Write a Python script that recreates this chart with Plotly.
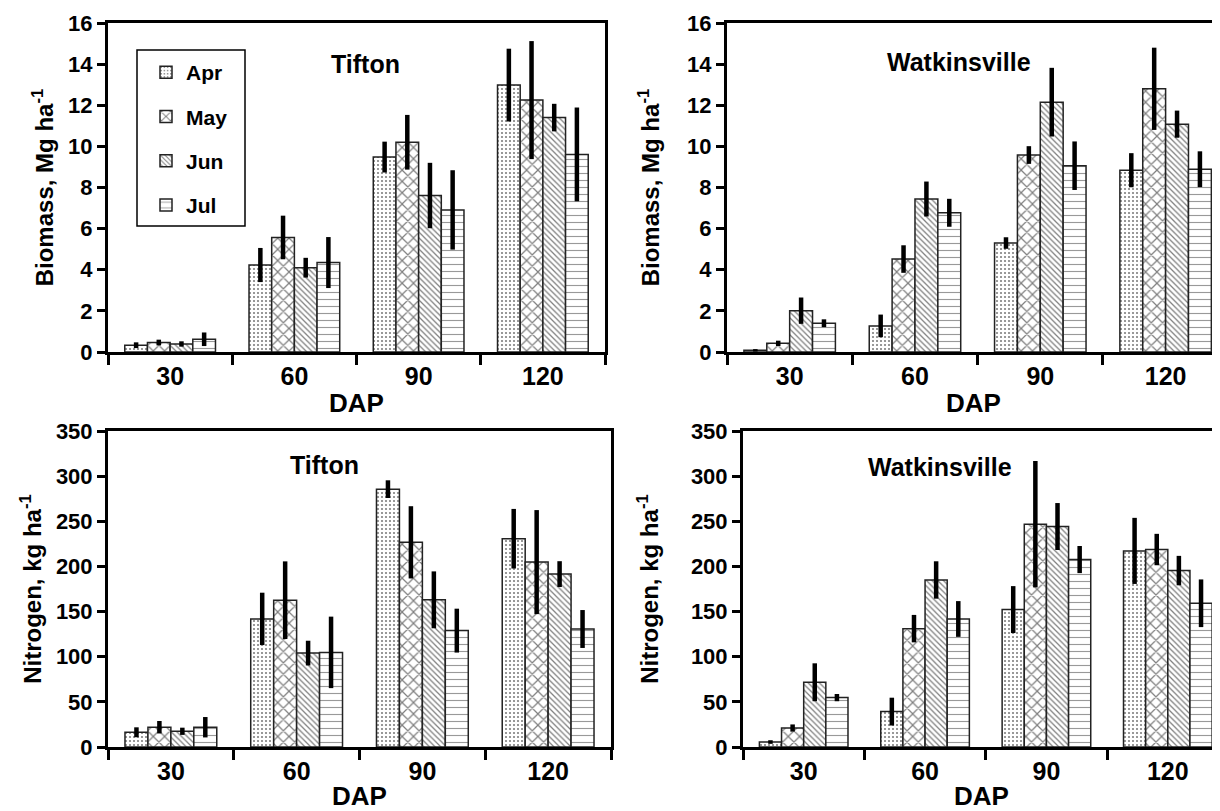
import plotly.graph_objects as go

# ---------------- data ----------------
dap = ["30", "60", "90", "120"]
months = ["Apr", "May", "Jun", "Jul"]

# Tifton biomass (Mg/ha) and error half-widths
tif_bio_apr = [0.33, 4.23, 9.48, 12.98]
tif_bio_may = [0.46, 5.57, 10.20, 12.25]
tif_bio_jun = [0.39, 4.10, 7.61, 11.40]
tif_bio_jul = [0.62, 4.35, 6.91, 9.61]
tif_bio_apr_err = [0.14, 0.83, 0.75, 1.77]
tif_bio_may_err = [0.14, 1.06, 1.33, 2.87]
tif_bio_jun_err = [0.13, 0.48, 1.59, 0.67]
tif_bio_jul_err = [0.33, 1.24, 1.93, 2.28]

# Watkinsville biomass (Mg/ha)
wat_bio_apr = [0.08, 1.27, 5.30, 8.84]
wat_bio_may = [0.42, 4.52, 9.58, 12.80]
wat_bio_jun = [2.01, 7.44, 12.15, 11.08]
wat_bio_jul = [1.40, 6.77, 9.06, 8.89]
wat_bio_apr_err = [0.06, 0.55, 0.28, 0.83]
wat_bio_may_err = [0.13, 0.67, 0.43, 2.00]
wat_bio_jun_err = [0.64, 0.85, 1.67, 0.66]
wat_bio_jul_err = [0.19, 0.68, 1.18, 0.87]

# Tifton nitrogen (kg/ha)
tif_n_apr = [16.3, 141.9, 285.6, 230.7]
tif_n_may = [21.9, 162.6, 226.7, 204.8]
tif_n_jun = [17.4, 104.0, 163.0, 191.5]
tif_n_jul = [21.9, 104.8, 128.9, 130.7]
tif_n_apr_err = [5.5, 29.0, 9.8, 33.0]
tif_n_may_err = [6.9, 43.0, 40.0, 57.6]
tif_n_jun_err = [4.0, 13.7, 31.5, 14.3]
tif_n_jul_err = [11.3, 39.6, 24.3, 21.0]

# Watkinsville nitrogen (kg/ha)
wat_n_apr = [5.5, 39.2, 152.2, 217.2]
wat_n_may = [21.0, 131.1, 246.8, 218.7]
wat_n_jun = [71.7, 185.0, 244.2, 195.4]
wat_n_jul = [54.7, 141.8, 207.6, 159.2]
wat_n_apr_err = [2.0, 15.4, 26.0, 36.6]
wat_n_may_err = [4.0, 15.2, 70.0, 17.4]
wat_n_jun_err = [21.0, 20.7, 26.0, 16.3]
wat_n_jul_err = [4.0, 19.8, 15.0, 26.4]

biomass_ticks = [0, 2, 4, 6, 8, 10, 12, 14, 16]
nitrogen_ticks = [0, 50, 100, 150, 200, 250, 300, 350]

# ---------------- styling ----------------
FONT = "Liberation Sans, Arial, sans-serif"
patterns = {
    "Apr": dict(shape=".", size=4, solidity=0.22, fgcolor="#000", bgcolor="#fff"),
    "May": dict(shape="x", size=8, solidity=0.28, fgcolor="#000", bgcolor="#fff"),
    "Jun": dict(shape="\\", size=4, solidity=0.32, fgcolor="#000", bgcolor="#fff"),
    "Jul": dict(shape="-", size=7, solidity=0.16, fgcolor="#333", bgcolor="#fff"),
}

panels = [
    ("x", "y", [tif_bio_apr, tif_bio_may, tif_bio_jun, tif_bio_jul],
     [tif_bio_apr_err, tif_bio_may_err, tif_bio_jun_err, tif_bio_jul_err]),
    ("x2", "y2", [wat_bio_apr, wat_bio_may, wat_bio_jun, wat_bio_jul],
     [wat_bio_apr_err, wat_bio_may_err, wat_bio_jun_err, wat_bio_jul_err]),
    ("x3", "y3", [tif_n_apr, tif_n_may, tif_n_jun, tif_n_jul],
     [tif_n_apr_err, tif_n_may_err, tif_n_jun_err, tif_n_jul_err]),
    ("x4", "y4", [wat_n_apr, wat_n_may, wat_n_jun, wat_n_jul],
     [wat_n_apr_err, wat_n_may_err, wat_n_jun_err, wat_n_jul_err]),
]

fig = go.Figure()
for pi, (xa, ya, vals, errs) in enumerate(panels):
    for mi, m in enumerate(months):
        fig.add_trace(go.Bar(
            x=dap, y=vals[mi], name=m, legendgroup=m,
            showlegend=(pi == 0),
            xaxis=xa, yaxis=ya,
            marker=dict(color="#fff", pattern=patterns[m],
                        line=dict(color="#222", width=1.5)),
            error_y=dict(type="data", array=errs[mi], symmetric=True,
                         color="#000", thickness=4.5, width=0),
        ))

# figure size (page body adds an 8px margin)
W, H = 1212, 803
def px_x(a, b):
    return [a / W, b / W]
def px_y(top, bottom):
    return [1 - bottom / H, 1 - top / H]

def xaxis(domain, rng, anchor):
    return dict(domain=domain, anchor=anchor, type="category", range=rng,
                automargin=False,
                tickson="boundaries", ticks="outside", ticklen=10, tickwidth=3,
                tickcolor="#000", showline=True, linecolor="#000", linewidth=3,
                mirror=True, showgrid=False, zeroline=False, ticklabelstandoff=0,
                tickfont=dict(family=FONT, size=25, color="#000", weight="bold"),
                title=dict(text="DAP", standoff=5,
                           font=dict(family=FONT, size=26, color="#000", weight="bold")))

def yaxis(domain, rng, tickvals, title, anchor, mirror, standoff):
    return dict(domain=domain, anchor=anchor, range=rng, tickvals=tickvals,
                automargin=False,
                ticks="outside", ticklen=8, tickwidth=2.5, tickcolor="#000",
                showline=True, linecolor="#000", linewidth=3, mirror=mirror,
                showgrid=False, zeroline=False,
                tickfont=dict(family=FONT, size=22, color="#000", weight="bold"),
                title=dict(text=title, standoff=standoff,
                           font=dict(family=FONT, size=24, color="#000", weight="bold")))

bio_title = "Biomass, Mg ha<sup>-1</sup>"
n_title = "Nitrogen, kg ha<sup>-1</sup>"

fig.update_layout(
    width=W, height=H,
    margin=dict(l=0, r=0, t=0, b=0, autoexpand=False),
    paper_bgcolor="#fff", plot_bgcolor="#fff",
    font=dict(family=FONT, color="#000", weight="bold"),
    barmode="group", bargap=0.27, bargroupgap=0,
    showlegend=True,
    legend=dict(x=138 / W, y=1 - 44 / H, xanchor="left", yanchor="top",
                bgcolor="rgba(0,0,0,0)", borderwidth=0,
                font=dict(family=FONT, size=21, color="#000", weight="bold"),
                tracegroupgap=14, traceorder="grouped"),
    xaxis=xaxis(px_x(100, 597), [-0.5, 3.5], "y"),
    yaxis=yaxis(px_y(15, 344), [0, 16], biomass_ticks, bio_title, "x", True, 8),
    xaxis2=xaxis(px_x(719, 1212), [-0.5, 3.434], "y2"),
    yaxis2=yaxis(px_y(15, 344), [0, 16], biomass_ticks, bio_title, "x2", False, 21),
    xaxis3=xaxis(px_x(100, 603), [-0.5, 3.5], "y3"),
    yaxis3=yaxis(px_y(423, 739), [0, 350], nitrogen_ticks, n_title, "x3", True, 8),
    xaxis4=xaxis(px_x(735, 1212), [-0.5, 3.43], "y4"),
    yaxis4=yaxis(px_y(423, 739), [0, 350], nitrogen_ticks, n_title, "x4", False, 26),
)

# legend frame
fig.add_shape(type="rect", xref="paper", yref="paper",
              x0=129 / W, x1=237 / W, y0=1 - 218 / H, y1=1 - 42 / H,
              line=dict(color="#000", width=1.5), fillcolor="#fff", layer="above")

titles = [("Tifton", 357, 56), ("Watkinsville", 951, 54),
          ("Tifton", 316, 457), ("Watkinsville", 932, 459)]
for txt, cx, cy in titles:
    fig.add_annotation(text=txt, x=cx / W, y=1 - cy / H, xref="paper", yref="paper",
                       xanchor="center", yanchor="middle", showarrow=False,
                       font=dict(family=FONT, size=25, color="#000", weight="bold"))

fig.write_html("out.html")
